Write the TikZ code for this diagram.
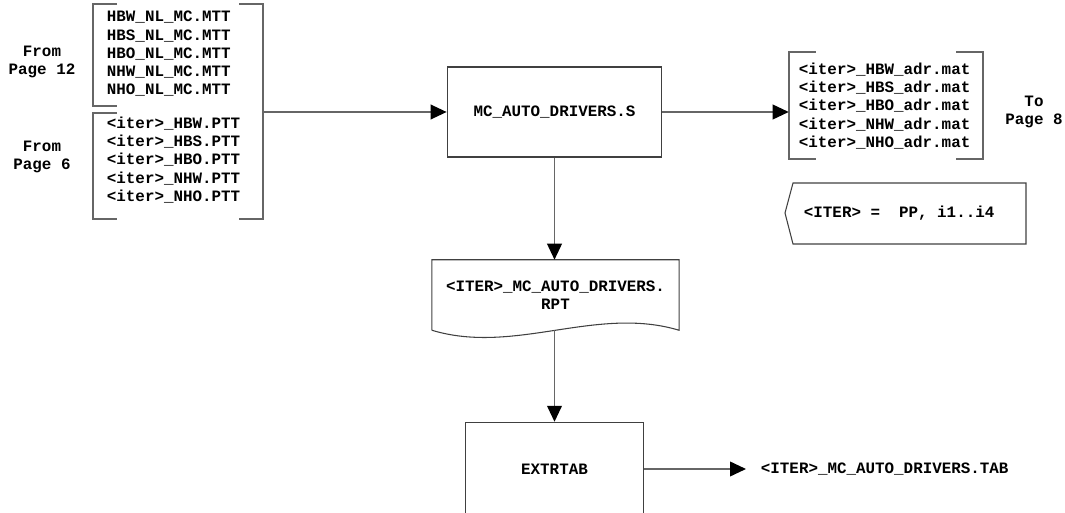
\documentclass[tikz,border=0pt]{standalone}
\usepackage{fontspec}
\setmonofont{Liberation Mono}
\usetikzlibrary{arrows.meta,calc}

\tikzset{
    flowline/.style={draw=black!60, line width=1.3pt},
    flowarrow/.style={flowline, -{Triangle[length=12pt,width=11pt,color=black]}},
    procbox/.style={draw=black!75, line width=0.8pt, rectangle, minimum width=161pt, minimum height=67.5pt},
    filelist/.style={align=left, inner sep=2pt},
    pagenote/.style={align=center, inner sep=1pt},
}

\begin{document}
\begin{tikzpicture}[x=0.75pt, y=-0.75pt, font=\ttfamily\bfseries\fontsize{11.9}{13.7}\selectfont]
    \useasboundingbox (0,0) rectangle (1065,513);

    % Inputs
    \begin{scope}
        \node[pagenote] (from12) at (42,62) {From\\Page 12};
        \node[pagenote] (from6) at (42,157) {From\\Page 6};
        \node[filelist, anchor=west] (mtt) at (104,54) {HBW\_NL\_MC.MTT\\HBS\_NL\_MC.MTT\\HBO\_NL\_MC.MTT\\NHW\_NL\_MC.MTT\\NHO\_NL\_MC.MTT};
        \node[filelist, anchor=west] (ptt) at (104,160) {<iter>\_HBW.PTT\\<iter>\_HBS.PTT\\<iter>\_HBO.PTT\\<iter>\_NHW.PTT\\<iter>\_NHO.PTT};
        % brackets
        \draw[flowline] (117,4) -- (93,4) -- (93,106) -- (117,106);
        \draw[flowline] (117,113) -- (93,113) -- (93,219) -- (117,219);
        \draw[flowline] (239,4) -- (263,4) -- (263,219) -- (239,219);
        \coordinate (inbr) at (263,112);
    \end{scope}

    % Main script
    \node[procbox] (drv) at (554.5,112) {MC\_AUTO\_DRIVERS.S};
    \draw[flowarrow] (inbr) -- (drv.west);

    % Outputs
    \begin{scope}
        \node[draw=none, minimum width=145.5pt, minimum height=80pt] (adr) at (886,105.5) {};
        \node[filelist, anchor=west] (adrlist) at (796,106) {<iter>\_HBW\_adr.mat\\<iter>\_HBS\_adr.mat\\<iter>\_HBO\_adr.mat\\<iter>\_NHW\_adr.mat\\<iter>\_NHO\_adr.mat};
        \draw[flowline] ($(adr.north west)+(27,0)$) -- (adr.north west) -- (adr.south west) -- ++(27,0);
        \draw[flowline] ($(adr.north east)+(-27,0)$) -- (adr.north east) -- (adr.south east) -- ++(-27,0);
        \node[pagenote] (to8) at (1034,112) {To\\Page 8};
        \draw[flowarrow] (drv.east) -- (drv.east -| adr.west);

        % iteration note
        \draw[draw=black!75, line width=0.8pt] (785,213) -- (793,183) -- (1026,183) -- (1026,244) -- (793,244) -- cycle;
        \node[anchor=west, inner sep=2pt] (iternote) at (801,213) {<ITER> =\ \ PP, i1..i4};
    \end{scope}

    % Report
    \node[minimum width=185pt, minimum height=52.5pt, align=center, inner sep=0pt] (rpt) at (555.5,295) {<ITER>\_MC\_AUTO\_DRIVERS.\\RPT};
    \draw[draw=black!75, line width=0.8pt] (rpt.south west) -- (rpt.north west) -- (rpt.north east) -- (rpt.south east)
        .. controls +(-83,-25) and +(83,25) .. (rpt.south west);
    \draw[flowarrow] (drv.south) -- (drv.south |- rpt.north);

    % Extract
    \node[procbox, minimum width=134pt, minimum height=70pt] (xtab) at (554.5,469) {EXTRTAB};
    \draw[flowarrow] (rpt.south -| drv.south) -- (xtab.north -| drv.south);
    \node[anchor=west, inner sep=2pt] (tab) at (758,469) {<ITER>\_MC\_AUTO\_DRIVERS.TAB};
    \draw[flowarrow, shorten >=9pt] (xtab.east) -- (tab.west);
\end{tikzpicture}
\end{document}
